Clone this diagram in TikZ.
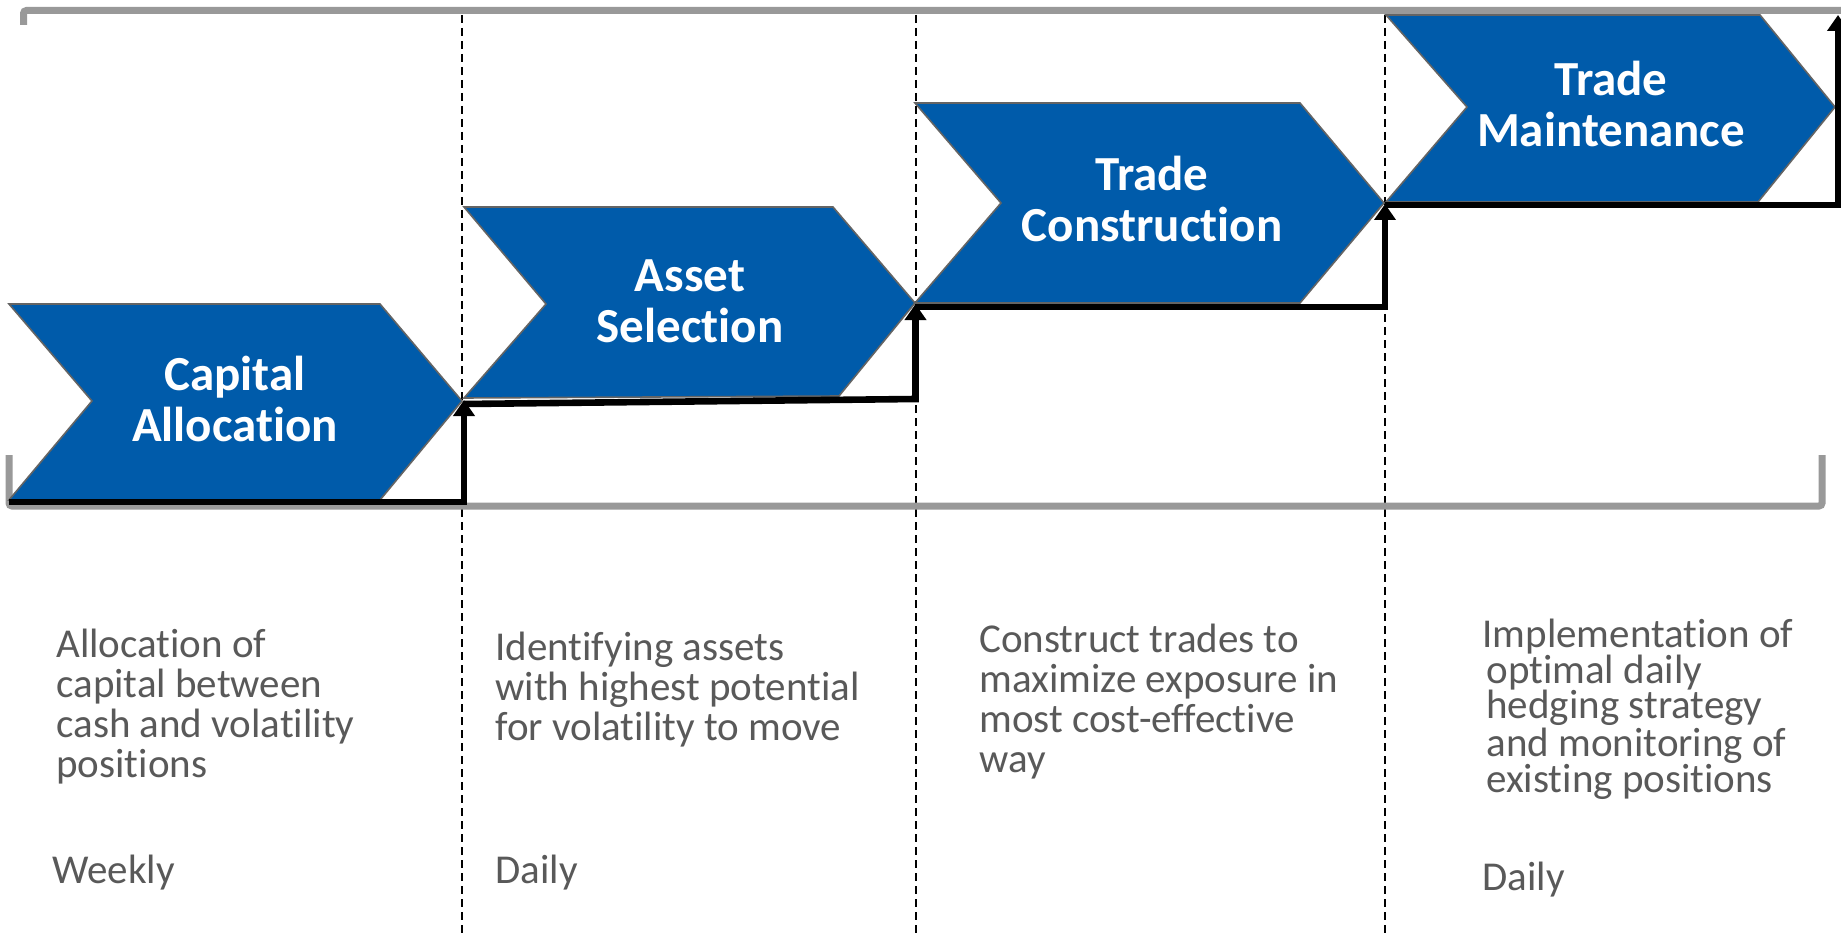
\documentclass[tikz,border=0pt]{standalone}
\usepackage{fontspec}
\setmainfont{Carlito}[RawFeature=-liga]
\usetikzlibrary{arrows.meta}
\definecolor{chevblue}{RGB}{0,91,170}
\definecolor{bracketgray}{RGB}{153,153,153}
\definecolor{textgray}{RGB}{89,89,89}
\definecolor{edgegray}{RGB}{100,100,100}
\begin{document}
\begin{tikzpicture}[x=0.5pt,y=-0.5pt,
  chev/.style={fill=chevblue,draw=edgegray,line width=0.8pt,line join=miter},
  bracket/.style={draw=bracketgray,line width=3.5pt,rounded corners=1.5pt},
  divider/.style={draw=black,line width=1pt,dash pattern=on 4pt off 2.5pt},
  stepline/.style={draw=black,line width=3.3pt,line join=miter,-{Triangle[length=8pt,width=10.5pt]}},
  chevtitle/.style={text=white,font=\bfseries\fontsize{24.5}{25.5}\selectfont,align=center,anchor=base,inner sep=0pt},
  desctext/.style={text=textgray,font=\fontsize{20.5}{20}\selectfont,align=left,anchor=base west,inner sep=0pt}]
\useasboundingbox (0,0) rectangle (1841,936);
\fill[white] (0,0) rectangle (1841,936);
% dividers
\coordinate (v1t) at (462,15);   \coordinate (v1b) at (462,936);
\coordinate (v2t) at (915.5,15); \coordinate (v2b) at (915.5,936);
\coordinate (v3t) at (1385,15);  \coordinate (v3b) at (1385,936);
\draw[divider] (v1t) -- (v1b);
\draw[divider] (v2t) -- (v2b);
\draw[divider] (v3t) -- (v3b);
% brackets
\draw[bracket] (23.5,25) -- (23.5,10.5) -- (1841,10.5);
\draw[bracket] (9,455) -- (9,506) -- (1822,506) -- (1822,455);
% chevrons
\draw[chev] (9,304) -- (380,304) -- (462,401) -- (380,500) -- (9,500) -- (92,401) -- cycle;
\draw[chev] (464,207) -- (833,207) -- (915,303) -- (839,396) -- (464,398) -- (546,304) -- cycle;
\draw[chev] (915,103) -- (1300,103) -- (1384,203) -- (1300,303) -- (915,303) -- (1001,203) -- cycle;
\draw[chev] (1386,15) -- (1760,15) -- (1835,107) -- (1758,202) -- (1386,202) -- (1467,107) -- cycle;
% titles (anchor = baseline of last line)
\node[chevtitle] (cap) at (235,441) {Capital\\Allocation};
\node[chevtitle] (asset) at (690,343) {Asset\\Selection};
\node[chevtitle] (constr) at (1152,242) {Trade\\Construction};
\node[chevtitle] (maint) at (1611,147) {Trade\\Maintenance};
% step line
\coordinate (s0) at (9,502);    \coordinate (s1) at (464,502);  \coordinate (t1) at (464,400);
\coordinate (s2) at (464,404);  \coordinate (s3) at (915.5,399); \coordinate (t2) at (915.5,304);
\coordinate (s4) at (915.5,307); \coordinate (s5) at (1385,307); \coordinate (t3) at (1385,204);
\coordinate (s6) at (1385,205); \coordinate (s7) at (1838,205); \coordinate (t4) at (1838,15);
\draw[stepline] (s0) -- (s1) -- (t1);
\draw[stepline] (s2) -- (s3) -- (t2);
\draw[stepline] (s4) -- (s5) -- (t3);
\draw[stepline] (s6) -- (s7) -- (t4);
% descriptions (anchor = baseline of last line)
\node[desctext] (d1) at (56,777) {Allocation of\\capital between\\cash and volatility\\positions};
\node[desctext] (f1) at (52,883) {Weekly};
\node[desctext] (d2) at (495,740) {Identifying assets\\with highest potential\\for volatility to move};
\node[desctext] (f2) at (495,883) {Daily};
\node[desctext] (d3) at (979,772) {Construct trades to\\maximize exposure in\\most cost-effective\\way};
\node[desctext,font=\fontsize{20.5}{17.75}\selectfont] (d4) at (1482,792) {Implementation of\\\hspace*{2pt}optimal daily\\\hspace*{2pt}hedging strategy\\\hspace*{2pt}and monitoring of\\\hspace*{2pt}existing positions};
\node[desctext] (f4) at (1482,890) {Daily};
\end{tikzpicture}
\end{document}
